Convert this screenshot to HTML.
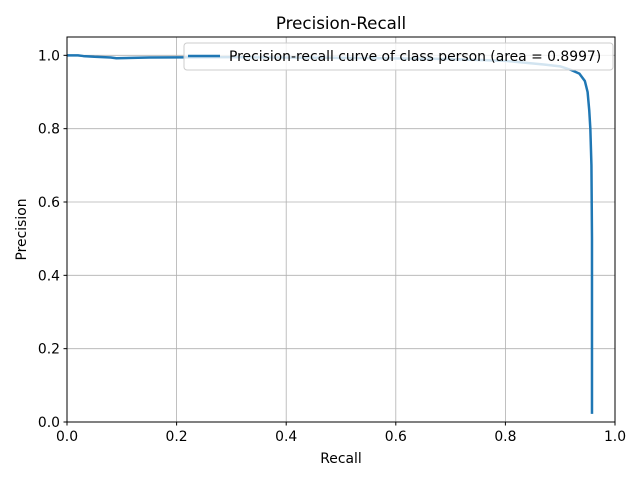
<!DOCTYPE html>
<html><head><meta charset="utf-8"><style>
body{margin:0;background:#fff;}
svg{display:block;font-family:"DejaVu Sans","Liberation Sans",sans-serif;}
</style></head><body>
<svg id="chart" width="640" height="480" viewBox="0 0 640 480">
<rect width="640" height="480" fill="#fff"/>
<text x="341" y="29" font-size="16.7" text-anchor="middle">Precision-Recall</text>
<g id="grid"></g>
<g id="curve"></g>
<rect x="67" y="37" width="548" height="385" fill="none" stroke="#000" stroke-width="1"/>
<g id="ticks"></g>
<text x="341" y="463" font-size="13.9" text-anchor="middle">Recall</text>
<text transform="translate(26,229.5) rotate(-90)" font-size="13.9" text-anchor="middle">Precision</text>
<g>
<rect x="184" y="43" width="429" height="27" rx="3" fill="#fff" fill-opacity="0.8" stroke="#ccc"/>
<line x1="188" y1="56" x2="220" y2="56" stroke="#1f77b4" stroke-width="2.5"/>
<text x="229" y="61" font-size="13.9">Precision-recall curve of class person (area = 0.8997)</text>
</g>
</svg>
<script>
const recall=[0,0.02,0.03,0.05,0.08,0.09,0.15,0.3,0.5,0.7,0.8,0.87,0.9,0.92,0.935,0.945,0.95,0.953,0.955,0.957,0.958,0.958,0.958];
const precision=[1.0,1.0,0.998,0.996,0.994,0.992,0.994,0.995,0.993,0.99,0.985,0.975,0.97,0.96,0.95,0.93,0.9,0.85,0.8,0.7,0.5,0.2,0.022];
const xTicks=[0,0.2,0.4,0.6,0.8,1.0];
const yTicks=[0,0.2,0.4,0.6,0.8,1.0];
const xTickLabels=["0.0","0.2","0.4","0.6","0.8","1.0"];
const yTickLabels=["0.0","0.2","0.4","0.6","0.8","1.0"];
const X=v=>67+v*548, Y=v=>422-v/1.05*385;
const NS="http://www.w3.org/2000/svg";
const mk=(t,a,p)=>{const e=document.createElementNS(NS,t);for(const k in a)e.setAttribute(k,a[k]);p.appendChild(e);return e;};
const grid=document.getElementById('grid'),ticks=document.getElementById('ticks'),curve=document.getElementById('curve');
xTicks.forEach((v,i)=>{
 const g=mk('line',{x1:X(v),x2:X(v),y1:37,y2:422,stroke:'#b0b0b0','stroke-width':0.8},grid);
 
 
 mk('line',{x1:X(v),x2:X(v),y1:422,y2:425.5,stroke:'#000'},ticks);
 const t=mk('text',{x:X(v),y:441,'font-size':13.9,'text-anchor':'middle'},ticks);t.textContent=xTickLabels[i];
 
 
});
yTicks.forEach((v,i)=>{
 const g=mk('line',{x1:67,x2:615,y1:Y(v),y2:Y(v),stroke:'#b0b0b0','stroke-width':0.8},grid);
 
 
 mk('line',{x1:63.5,x2:67,y1:Y(v),y2:Y(v),stroke:'#000'},ticks);
 const t=mk('text',{x:60,y:Y(v)+5,'font-size':13.9,'text-anchor':'end'},ticks);t.textContent=yTickLabels[i];
 
 
});
const p=mk('polyline',{points:recall.map((r,i)=>X(r)+','+Y(precision[i])).join(' '),fill:'none',stroke:'#1f77b4','stroke-width':2.5,'stroke-linejoin':'round'},curve);


</script>
</body></html>
